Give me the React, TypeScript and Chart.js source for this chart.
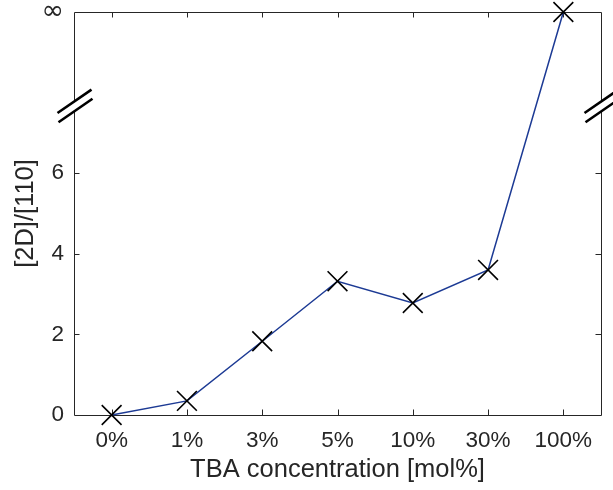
import React, { useEffect, useRef } from "react";
import { Chart, registerables } from "chart.js";

Chart.register(...registerables);

const CATEGORIES = ["0%", "1%", "3%", "5%", "10%", "30%", "100%"];
const RATIO_VALUES = [0, 0.35, 1.83, 3.32, 2.78, 3.6, Infinity];
const Y_TICKS = [0, 2, 4, 6, 10];
const Y_MAX = 10; // position of the "∞" row
const Y_BREAK = 7.67;
const X_TITLE = "TBA concentration [mol%]";
const Y_TITLE = "[2D]/[110]";

const AXIS_COLOR = "#262626";
const LINE_COLOR = "#1c3a94";
const FONT = "'Liberation Sans', Arial, Helvetica, sans-serif";

const boxPlugin = {
  id: "matlabBox",
  beforeDatasetsDraw(chart: any) {
    const { ctx, chartArea: a, scales } = chart;
    const x = scales.x;
    const y = scales.y;
    const tl = 5.5;
    ctx.save();
    ctx.strokeStyle = AXIS_COLOR;
    ctx.lineWidth = 1;
    ctx.beginPath();
    ctx.rect(Math.round(a.left) + 0.5, Math.round(a.top) + 0.5, Math.round(a.right - a.left), Math.round(a.bottom - a.top));
    ctx.stroke();
    ctx.beginPath();
    x.ticks.forEach((_t: any, i: number) => {
      const px = Math.round(x.getPixelForTick(i)) + 0.5;
      ctx.moveTo(px, a.bottom);
      ctx.lineTo(px, a.bottom - tl);
      ctx.moveTo(px, a.top);
      ctx.lineTo(px, a.top + tl);
    });
    y.ticks.forEach((t: any) => {
      if (t.value === Y_MAX || t.value === 0) return;
      const py = Math.round(y.getPixelForValue(t.value)) + 0.5;
      ctx.moveTo(a.left, py);
      ctx.lineTo(a.left + tl, py);
      ctx.moveTo(a.right, py);
      ctx.lineTo(a.right - tl, py);
    });
    ctx.stroke();

    // axis breaks
    const by = y.getPixelForValue(Y_BREAK);
    const dx = 17;
    const dy = 11.7;
    const gap = 4.6;
    [a.left + 0.5, a.right + 0.5].forEach((bx: number) => {
      ctx.fillStyle = "#ffffff";
      ctx.beginPath();
      ctx.moveTo(bx - 3, by - gap + 2.1);
      ctx.lineTo(bx + 3, by - gap - 2.1);
      ctx.lineTo(bx + 3, by + gap - 2.1);
      ctx.lineTo(bx - 3, by + gap + 2.1);
      ctx.closePath();
      ctx.fill();
      ctx.strokeStyle = "#000000";
      ctx.lineWidth = 2.6;
      ctx.beginPath();
      ctx.moveTo(bx - dx, by - gap + dy);
      ctx.lineTo(bx + dx, by - gap - dy);
      ctx.moveTo(bx - dx + 1, by + gap + dy);
      ctx.lineTo(bx + dx + 1, by + gap - dy);
      ctx.stroke();
    });
    ctx.restore();
  },
};

export default function App() {
  const ref = useRef<HTMLCanvasElement | null>(null);
  useEffect(() => {
    if (!ref.current) return;
    const data = RATIO_VALUES.map((v) => (Number.isFinite(v) ? v : Y_MAX));
    const chart = new Chart(ref.current, {
      type: "line",
      data: {
        labels: CATEGORIES,
        datasets: [
          {
            data,
            borderColor: LINE_COLOR,
            borderWidth: 1.5,
            pointStyle: "crossRot",
            pointRadius: 14,
            pointBorderColor: "#000000",
            pointBorderWidth: 1.6,
            pointHoverRadius: 14,
            clip: false as any,
            tension: 0,
          },
        ],
      },
      options: {
        responsive: false,
        animation: false,
        events: [],
        layout: { autoPadding: false, padding: { top: 12, right: 12, left: 0, bottom: 0 } },
        plugins: { legend: { display: false }, tooltip: { enabled: false } },
        scales: {
          x: {
            type: "category",
            offset: true,
            grid: { display: false, drawTicks: false },
            border: { display: false },
            ticks: {
              color: AXIS_COLOR,
              font: { family: FONT, size: 22.5 },
              padding: 12,
              maxRotation: 0,
              autoSkip: false,
            },
            title: {
              display: true,
              text: X_TITLE,
              color: AXIS_COLOR,
              font: { family: FONT, size: 25.5 },
              padding: { top: 0, bottom: 5 },
            },
            afterFit: (s: any) => {
              s.height = 75;
              s.paddingLeft = 0;
              s.paddingRight = 0;
            },
          },
          y: {
            type: "linear",
            min: 0,
            max: Y_MAX,
            grid: { display: false, drawTicks: false },
            border: { display: false },
            afterBuildTicks: (s: any) => {
              s.ticks = Y_TICKS.map((v) => ({ value: v }));
            },
            ticks: {
              color: AXIS_COLOR,
              font: (c: any) =>
                c.tick && c.tick.value === Y_MAX
                  ? { family: "'DejaVu Sans', sans-serif", size: 27 }
                  : { family: FONT, size: 22.5 },
              padding: 10,
              callback: (v: any) => (v === Y_MAX ? "∞" : String(v)),
            },
            title: {
              display: true,
              text: Y_TITLE,
              color: AXIS_COLOR,
              font: { family: FONT, size: 25.5 },
              padding: { top: 11, bottom: 0 },
            },
            afterFit: (s: any) => {
              s.width = 74;
              s.paddingTop = 0;
              s.paddingBottom = 0;
            },
          },
        },
      },
      plugins: [boxPlugin],
    });
    return () => chart.destroy();
  }, []);
  return (
    <div style={{ position: "absolute", left: 0, top: 0, width: 613, height: 490 }}>
      <canvas ref={ref} width={613} height={490} style={{ display: "block" }} />
    </div>
  );
}
